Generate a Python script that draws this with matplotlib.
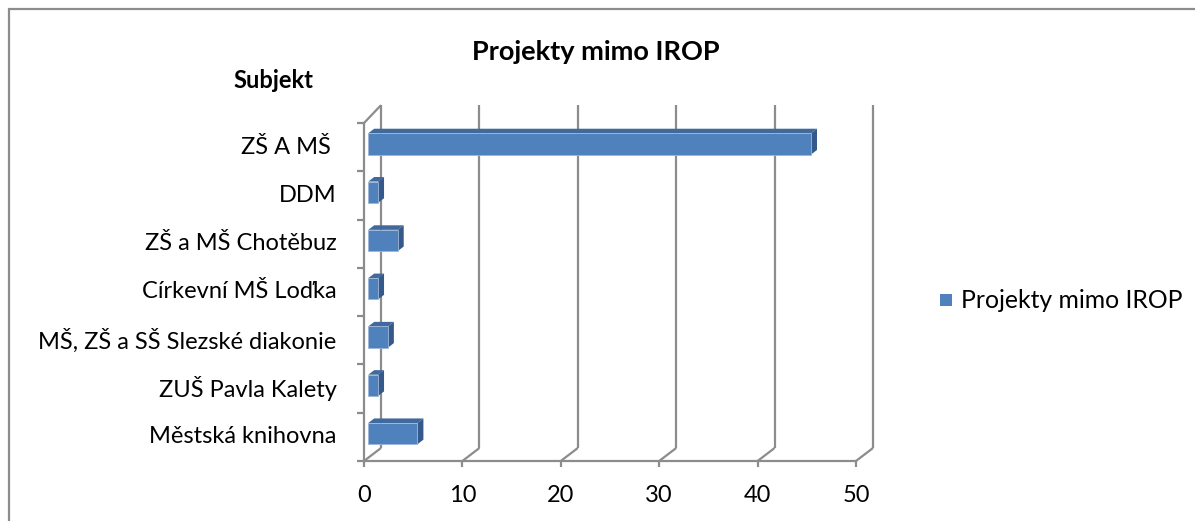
import matplotlib
matplotlib.use("Agg")
import matplotlib.pyplot as plt
import numpy as np
from matplotlib.patches import Polygon, Rectangle
from matplotlib.transforms import IdentityTransform, ScaledTranslation
from matplotlib.lines import Line2D

plt.rcParams["font.family"] = ["Lato", "DejaVu Sans"]

# ── data ──────────────────────────────────────────────────────────────────────
CATEGORIES = ["Městská knihovna", "ZUŠ Pavla Kalety", "MŠ, ZŠ a SŠ Slezské diakonie",
              "Církevní MŠ Loďka", "ZŠ a MŠ Chotěbuz", "DDM", "ZŠ A MŠ "]
VALUES = [5, 1, 2, 1, 3, 1, 45]
XTICKS = [0, 10, 20, 30, 40, 50]
SERIES = "Projekty mimo IROP"

# ── colours / geometry ─────────────────────────────────────────────────────────
FRONT = "#4F81BD"
TOP = "#41699C"
SIDE = "#35598A"
GRID = "#8C8C8C"
DEPTH = np.array([17.0, 13.0])        # px, back wall offset (right, up)
BAR_D0, BAR_D1 = 0.25, 0.60          # bar front/back depth fractions
BAR_H = 0.44                         # bar thickness in category units

W, H, DPI = 1195, 521, 100
fig = plt.figure(figsize=(W / DPI, H / DPI), dpi=DPI)

# front plane of the plot: x 0..50 -> px 364..856, y -0.5..6.5 -> px 461..123
x0, x1, ytop, ybot = 364, 856, 123, 461
ax = fig.add_axes([x0 / W, (H - ybot) / H, (x1 - x0) / W, (ybot - ytop) / H])
ax.set_xlim(0, 50)
ax.set_ylim(-0.5, len(CATEGORIES) - 0.5)
ax.axis("off")


def pt(x, y, d=0.0):
    p = ax.transData.transform((x, y))
    return p + d * DEPTH


def line(a, b, **kw):
    fig.add_artist(Line2D([a[0], b[0]], [a[1], b[1]], transform=IdentityTransform(),
                          color=GRID, lw=1.6, solid_capstyle="butt", **kw))


def poly(pts, color, z=3, edge="none"):
    fig.add_artist(Polygon(np.array(pts), closed=True, transform=IdentityTransform(),
                           facecolor=color, edgecolor=edge, lw=0.6, zorder=z))


ylo, yhi = -0.5, len(CATEGORIES) - 0.5

# back wall gridlines + floor diagonals
for t in XTICKS:
    line(pt(t, ylo, 1), pt(t, yhi + 0.1, 1))
    line(pt(t, ylo, 0), pt(t, ylo, 1))
    a = pt(t, ylo, 0)
    line(a, a + np.array([0, -6]))

# front floor line and left wall
line(pt(0, ylo, 0), pt(50, ylo, 0))
line(pt(0, ylo, 0), pt(0, yhi, 0))
line(pt(0, yhi, 0), pt(0, yhi + 0.1, 1))
for k in range(len(CATEGORIES) + 1):
    a = pt(0, ylo + k, 0)
    line(a, a + np.array([-7, 0]))

# 3D bars
for i, v in enumerate(VALUES):
    yb, yt = i - BAR_H / 2, i + BAR_H / 2
    poly([pt(0, yt, BAR_D0), pt(v, yt, BAR_D0), pt(v, yt, BAR_D1), pt(0, yt, BAR_D1)], TOP)
    poly([pt(v, yb, BAR_D0), pt(v, yb, BAR_D1), pt(v, yt, BAR_D1), pt(v, yt, BAR_D0)], SIDE)
    poly([pt(0, yb, BAR_D0), pt(v, yb, BAR_D0), pt(v, yt, BAR_D0), pt(0, yt, BAR_D0)], FRONT, 4,
         edge="#9DB6D8")

# category labels
for i, c in enumerate(CATEGORIES):
    ax.text(-2.8, i, c, ha="right", va="center", fontsize=17, color="black", clip_on=False)

# value labels
for t in XTICKS:
    ax.text(t, ylo, str(t), transform=ax.transData + ScaledTranslation(0, -0.34, fig.dpi_scale_trans),
            ha="center", va="center", fontsize=17, color="black")

# titles
fig.text(596 / W, 1 - 52 / H, "Projekty mimo IROP", ha="center", va="center",
         fontsize=19.5, fontweight="bold")
fig.text(273 / W, 1 - 80 / H, "Subjekt", ha="center", va="center",
         fontsize=17, fontweight="bold")

# legend
fig.add_artist(Rectangle((940 / W, 1 - 306 / H), 12 / W, 12 / H, transform=fig.transFigure,
                         facecolor=FRONT, edgecolor="none"))
fig.text(961 / W, 1 - 300 / H, SERIES, ha="left", va="center", fontsize=17.8)

# chart area border
fig.add_artist(Rectangle((8.5 / W, -0.1), 1.2, 1 - 8.5 / H + 0.1, transform=fig.transFigure,
                         facecolor="none", edgecolor="#8C8C8C", lw=1.6))

fig.savefig("out.png", dpi=DPI, facecolor="white")
